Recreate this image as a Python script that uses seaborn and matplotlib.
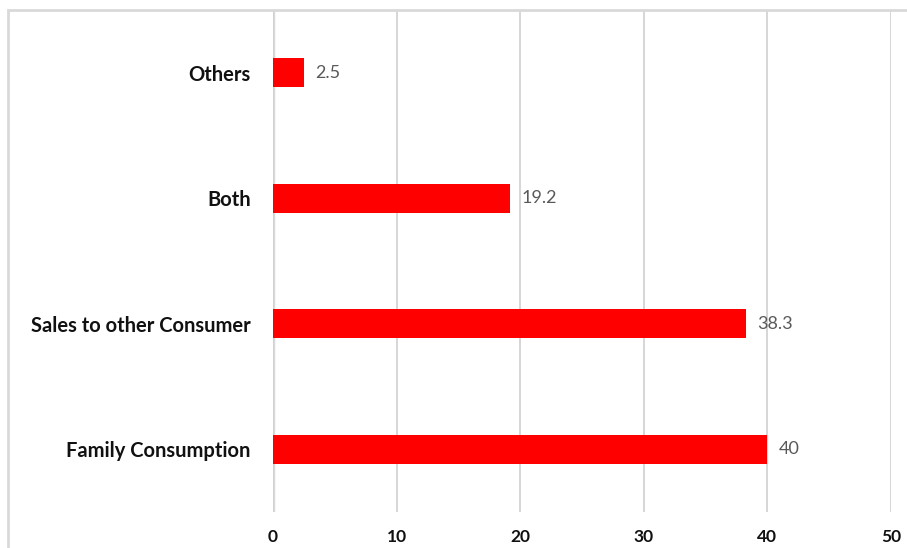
import matplotlib
matplotlib.use("Agg")
import matplotlib.pyplot as plt
import seaborn as sns
import pandas as pd
from matplotlib.patches import Rectangle

categories = ["Others", "Both", "Sales to other Consumer", "Family Consumption"]
values = [2.5, 19.2, 38.3, 40]
xticks = [0, 10, 20, 30, 40, 50]
value_labels = ["2.5", "19.2", "38.3", "40"]

df = pd.DataFrame({"category": categories, "value": values})

sns.set_theme(style="white")
plt.rcParams['font.family'] = ['Lato', 'DejaVu Sans']

W, H = 907, 548
fig = plt.figure(figsize=(W / 100, H / 100), dpi=100)
ax = fig.add_axes([273 / W, 1 - 512 / H, (891 - 273) / W, (512 - 10) / H])

sns.barplot(data=df, y="category", x="value", orient="h", color="#ff0000",
            saturation=1, width=0.23, ax=ax, edgecolor="none")

ax.set_xlim(0, 50)
ax.set_ylim(3.5, -0.5)
ax.set_xticks(xticks)
ax.set_xticklabels([str(t) for t in xticks], fontsize=12.5, fontweight="bold", color="#111111")
ax.tick_params(axis="x", pad=12, length=0)
ax.tick_params(axis="y", pad=16, length=0)
for lbl in ax.get_yticklabels():
    lbl.set_fontsize(14.5)
    lbl.set_fontweight("bold")
    lbl.set_color("#111111")
ax.set_xlabel("")
ax.set_ylabel("")
for s in ax.spines.values():
    s.set_visible(False)
ax.grid(axis="x", color="#d0d0d0", linewidth=1.2)
ax.grid(axis="y", visible=False)
ax.set_axisbelow(True)
ax.axvline(0, color="#d9d9d9", linewidth=2.5, zorder=0.5)

for p, lab in zip(ax.patches, value_labels):
    ax.annotate(lab, (p.get_width(), p.get_y() + p.get_height() / 2),
                xytext=(8, 0), textcoords="offset points", va="center", ha="left",
                fontsize=13, color="#595959")

fig.patches.append(Rectangle((8 / W, -0.1), 1.2, 1 - 10 / H + 0.1,
                             transform=fig.transFigure, fill=False,
                             edgecolor="#d9d9d9", linewidth=2))

fig.savefig("out.png", dpi=100)
